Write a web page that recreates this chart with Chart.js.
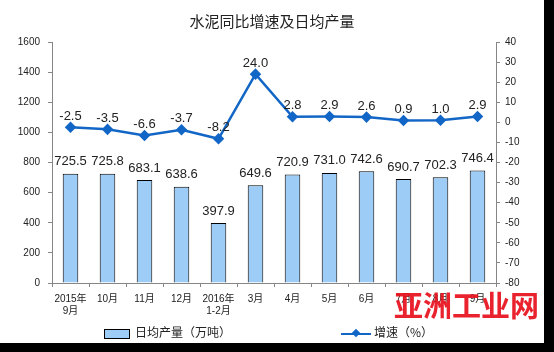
<!DOCTYPE html>
<html>
<head>
<meta charset="utf-8">
<script src="https://cdn.jsdelivr.net/npm/chart.js@4/dist/chart.umd.min.js"></script>
<style>
  html, body { margin: 0; padding: 0; background: #000; }
  #frame { position: relative; width: 544px; height: 343px; background: #fff; overflow: hidden; }
  #chart { position: absolute; left: 0; top: 0; }
  .legend { position: absolute; top: 323px; font: 12px "Noto Sans CJK SC", sans-serif; color: #222; white-space: nowrap; }
  .legend .box { display: inline-block; width: 24px; height: 8px; background: #9dcdf7; border: 1px solid #000; vertical-align: middle; margin-right: 5px; }
  .legend .ln { display: inline-block; position: relative; width: 30px; height: 2px; background: #1266c6; vertical-align: middle; margin-right: 3px; }
  .legend .ln::after { content: ""; position: absolute; left: 12px; top: -3px; width: 6px; height: 6px; background: #1266c6; transform: rotate(45deg); }
  #mark { position: absolute; left: 394px; top: 283px; font: bold 29px "Noto Sans CJK SC", sans-serif; color: #e8101c; opacity: 0.92; }
</style>
</head>
<body>
<div id="frame">
  <canvas id="chart" width="544" height="343"></canvas>
  <div class="legend" style="left:104px"><span class="box"></span>日均产量（万吨）</div>
  <div class="legend" style="left:341px"><span class="ln"></span>增速（%）</div>
  <div id="mark">亚洲工业网</div>
</div>
<script>
// categories (months)
const months = [['2015年', '9月'], '10月', '11月', '12月', ['2016年', '1-2月'], '3月', '4月', '5月', '6月', '7月', '8月', '9月'];
// daily average output, 10k tonnes
const dailyOutput = [725.5, 725.8, 683.1, 638.6, 397.9, 649.6, 720.9, 731.0, 742.6, 690.7, 702.3, 746.4];
// year-on-year growth, %
const growth = [-2.5, -3.5, -6.6, -3.7, -8.2, 24.0, 2.8, 2.9, 2.6, 0.9, 1.0, 2.9];

const FONT = '"Liberation Sans", Arial, "Noto Sans CJK SC", sans-serif';
const axisGray = '#868686';

// draws the numbers above bars and points
const valueLabels = {
    id: 'valueLabels',
    afterDatasetsDraw(chart) {
        const ctx = chart.ctx;
        ctx.save();
        ctx.font = '13px ' + FONT;
        ctx.fillStyle = '#222';
        ctx.textAlign = 'center';
        ctx.textBaseline = 'middle';
        chart.data.datasets.forEach((ds, di) => {
            const meta = chart.getDatasetMeta(di);
            meta.data.forEach((el, i) => {
                const off = ds.type === 'line' ? 11 : 12;
                ctx.fillText(ds.data[i].toFixed(1), el.x, el.y - off);
            });
        });
        ctx.restore();
    }
};

new Chart(document.getElementById('chart'), {
    data: {
        labels: months,
        datasets: [
            {
                type: 'line',
                label: '增速（%）',
                data: growth,
                yAxisID: 'y2',
                borderColor: '#1266c6',
                backgroundColor: '#1266c6',
                borderWidth: 2.5,
                pointStyle: 'rectRot',
                pointRadius: 4,
                tension: 0,
                order: 0
            },
            {
                type: 'bar',
                label: '日均产量（万吨）',
                data: dailyOutput,
                yAxisID: 'y',
                backgroundColor: '#9dcdf7',
                borderColor: '#000',
                borderWidth: 1,
                barPercentage: 0.42,
                categoryPercentage: 1,
                order: 1
            }
        ]
    },
    options: {
        responsive: false,
        animation: false,
        layout: { padding: { left: 0, right: 0, top: 0, bottom: 25 } },
        plugins: {
            legend: { display: false },
            tooltip: { enabled: false },
            title: {
                display: true,
                text: '水泥同比增速及日均产量',
                color: '#222',
                font: { family: '"Noto Sans CJK SC", sans-serif', size: 15, weight: 'normal' },
                padding: { top: 12, bottom: 12 }
            }
        },
        scales: {
            x: {
                offset: true,
                grid: { display: true, drawOnChartArea: false, offset: true, tickLength: 4, color: axisGray },
                border: { color: axisGray },
                ticks: { color: '#222', font: { family: FONT, size: 10 }, padding: 6, maxRotation: 0, autoSkip: false },
                afterFit(scale) { scale.height = 35; }
            },
            y: {
                position: 'left',
                min: 0,
                max: 1600,
                grid: { display: true, drawOnChartArea: false, tickLength: 4, color: axisGray },
                border: { color: axisGray },
                ticks: { stepSize: 200, color: '#222', font: { family: FONT, size: 10 }, padding: 8,
                    callback: v => String(v) },
                afterFit(scale) { scale.width = 52; }
            },
            y2: {
                position: 'right',
                min: -80,
                max: 40,
                grid: { display: true, drawOnChartArea: false, tickLength: 4, color: axisGray },
                border: { color: axisGray },
                ticks: { stepSize: 10, color: '#222', font: { family: FONT, size: 10 }, padding: 5 },
                afterFit(scale) { scale.width = 48; }
            }
        }
    },
    plugins: [valueLabels]
});
</script>
</body>
</html>
